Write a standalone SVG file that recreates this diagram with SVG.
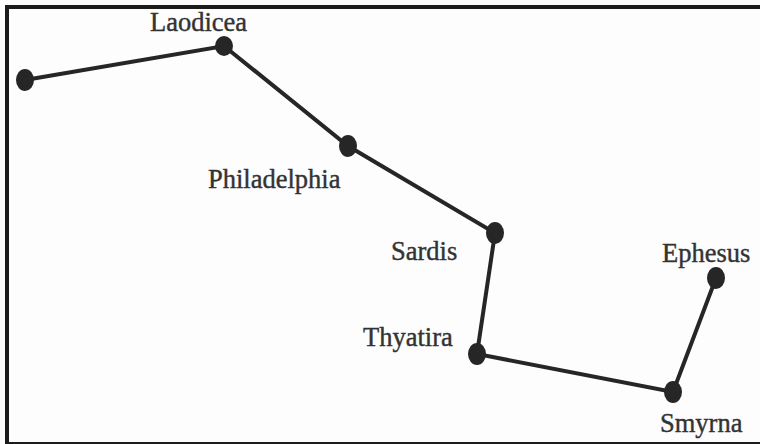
<svg xmlns="http://www.w3.org/2000/svg" width="760" height="444" viewBox="0 0 760 444">
<style>
.lbl{font-family:"Liberation Serif","Times New Roman",serif;font-size:26.5px;fill:#333;stroke:#333;stroke-width:0.4;}
.edge{stroke:#262626;stroke-width:4;fill:none;stroke-linecap:round;}
.dot{fill:#262626;}
</style>
<rect width="760" height="444" fill="#fdfdfd"/>
<path d="M7,444 V7 H760" stroke="#1c1c1c" stroke-width="4" fill="none"/>
<line x1="7" y1="443" x2="760" y2="443" stroke="#1c1c1c" stroke-width="2"/>
<g id="connectors">
<polyline class="edge" points="25,80 224,46 348,146 495,233 477,354 673,392 716,278"/>
</g>
<g id="n0"><ellipse class="dot" cx="25" cy="80" rx="9" ry="11"/></g>
<g id="laodicea"><ellipse class="dot" cx="224" cy="46" rx="9" ry="10"/><text class="lbl" x="150" y="31">Laodicea</text></g>
<g id="philadelphia"><ellipse class="dot" cx="348" cy="146" rx="9" ry="11"/><text class="lbl" x="208" y="188">Philadelphia</text></g>
<g id="sardis"><ellipse class="dot" cx="495" cy="233" rx="9" ry="11"/><text class="lbl" x="391" y="260">Sardis</text></g>
<g id="thyatira"><ellipse class="dot" cx="477" cy="354" rx="9" ry="11"/><text class="lbl" x="363" y="346">Thyatira</text></g>
<g id="smyrna"><ellipse class="dot" cx="673" cy="392" rx="9" ry="11"/><text class="lbl" x="660" y="432">Smyrna</text></g>
<g id="ephesus"><ellipse class="dot" cx="716" cy="278" rx="9" ry="11"/><text class="lbl" x="662" y="262">Ephesus</text></g>
</svg>
